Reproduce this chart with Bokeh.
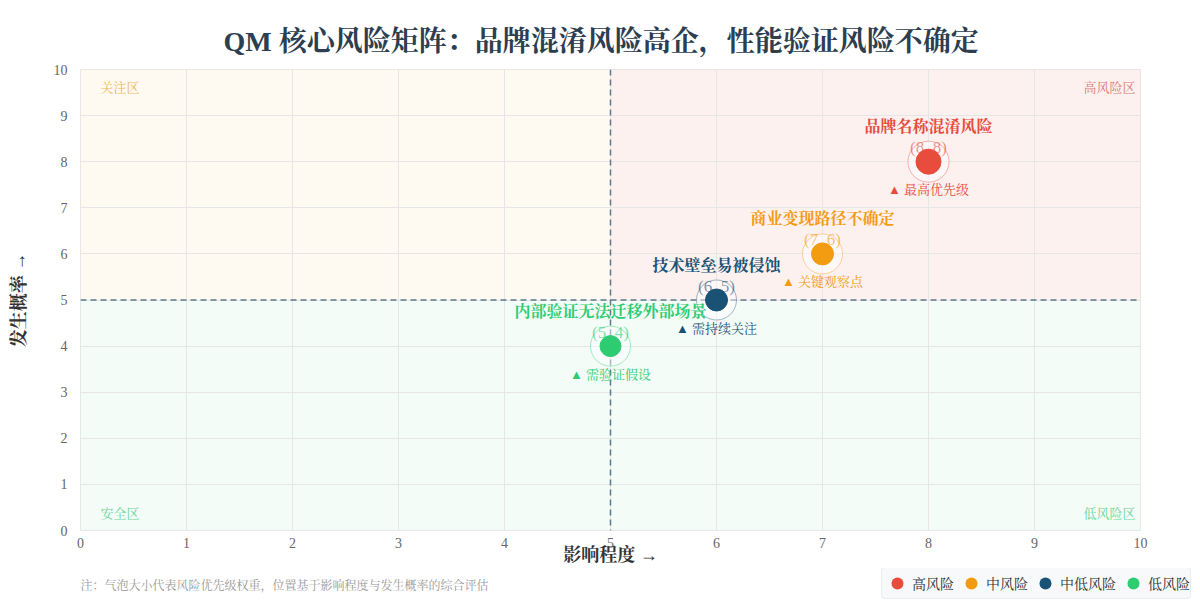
from bokeh.plotting import figure
from bokeh.models import ColumnDataSource, Span, Label, Legend, LegendItem, FixedTicker
from bokeh.core.properties import value
from bokeh.embed import file_html
from bokeh.resources import INLINE

# ---------------- data ----------------
risk_names = ["品牌名称混淆风险", "商业变现路径不确定", "技术壁垒易被侵蚀", "内部验证无法迁移外部场景"]
impact = [8, 7, 6, 5]
probability = [8, 6, 5, 4]
levels = ["高风险", "中风险", "中低风险", "低风险"]
notes = ["最高优先级", "关键观察点", "需持续关注", "需验证假设"]
zone_names = ["关注区", "高风险区", "安全区", "低风险区"]
threshold_impact = 5
threshold_prob = 5
axis_ticks = [0, 1, 2, 3, 4, 5, 6, 7, 8, 9, 10]
footnote = "注：气泡大小代表风险优先级权重，位置基于影响程度与发生概率的综合评估"

# ---------------- styles ----------------
colors = ["#e74c3c", "#f39c12", "#1a5276", "#2ecc71"]
bubble_sizes = [25, 22, 22, 21]
ring_sizes = [41, 40, 40, 40]
FONT = "Liberation Serif, Noto Serif CJK SC, Noto Sans CJK SC, serif"

coord_text = [f"({x}, {y})" for x, y in zip(impact, probability)]
note_text = ["▲ " + n for n in notes]

src = ColumnDataSource(dict(x=impact, y=probability, name=risk_names, level=levels,
                            note=note_text, coord=coord_text, color=colors,
                            size=bubble_sizes, ring=ring_sizes))

p = figure(width=1200, height=568, x_range=(0, 10), y_range=(0, 10),
           output_backend="svg", toolbar_location=None,
           min_border_left=80, min_border_right=60, min_border_top=69, min_border_bottom=38,
           background_fill_color="white", border_fill_color="white")

p.title.text = "QM 核心风险矩阵：品牌混淆风险高企，性能验证风险不确定"
p.title.text_font = FONT
p.title.text_font_size = "28px"
p.title.text_font_style = "bold"
p.title.text_color = "#2c3e50"
p.title.align = "left"
p.title.offset = 143
p.title.standoff = 26

p.outline_line_color = "#e8e8e8"

# quadrant backgrounds
xmin, xmax = axis_ticks[0], axis_ticks[-1]
p.quad(left=[xmin], right=[threshold_impact], bottom=[threshold_prob], top=[xmax],
       fill_color="#f39c12", fill_alpha=0.06, line_color=None, level="underlay")
p.quad(left=[threshold_impact], right=[xmax], bottom=[threshold_prob], top=[xmax],
       fill_color="#e74c3c", fill_alpha=0.08, line_color=None, level="underlay")
p.quad(left=[xmin, threshold_impact], right=[threshold_impact, xmax], bottom=[xmin, xmin],
       top=[threshold_prob, threshold_prob],
       fill_color="#2ecc71", fill_alpha=0.06, line_color=None, level="underlay")

# axes & grid
for ax in (p.xaxis, p.yaxis):
    ax.ticker = FixedTicker(ticks=axis_ticks)
    ax.axis_line_color = None
    ax.major_tick_line_color = None
    ax.minor_tick_line_color = None
    ax.major_tick_out = 0
    ax.major_tick_in = 0
    ax.minor_tick_out = 0
    ax.minor_tick_in = 0
    ax.major_label_text_font = FONT
    ax.major_label_text_font_size = "14px"
    ax.major_label_text_color = "#666666"
    ax.axis_label_text_font = FONT
    ax.axis_label_text_font_size = "18px"
    ax.axis_label_text_font_style = "bold"
    ax.axis_label_text_color = "#333333"
p.xaxis.axis_label = "影响程度 →"
p.yaxis.axis_label = "发生概率 →"
p.xaxis.major_label_standoff = 7
p.yaxis.major_label_standoff = 13
p.xaxis.axis_label_standoff = -6
p.yaxis.axis_label_standoff = 22
p.grid.grid_line_color = "#e6e6e6"
p.grid.grid_line_width = 1

# threshold lines (behind the bubbles)
for loc, dim in ((threshold_impact, "height"), (threshold_prob, "width")):
    p.add_layout(Span(location=loc, dimension=dim, line_color="#5d7a8c",
                      line_dash="6 4", line_width=1.5, level="underlay"))

# zone labels
zone_src = ColumnDataSource(dict(
    x=[xmin, xmax, xmin, xmax], y=[xmax, xmax, xmin, xmin], text=zone_names,
    color=["#f0b95a", "#e07a7a", "#6fd69c", "#6fd69c"],
    align=["left", "right", "left", "right"],
    xo=[20, -5, 20, -5], yo=[18, 18, -17, -17]))
p.text(x="x", y="y", text="text", source=zone_src, text_color="color", text_align="align",
       x_offset="xo", y_offset="yo", text_baseline="middle",
       text_font=value(FONT), text_font_size="13px")

# outer halo rings
p.scatter(x="x", y="y", size="ring", source=src, fill_color="white", fill_alpha=0.45,
          line_color="color", line_alpha=0.4, line_width=1)

# coordinate labels (partly under the bubbles)
p.text(x="x", y="y", text="coord", source=src, text_color="color", text_alpha=0.6,
       y_offset=-14, text_align="center", text_baseline="middle",
       text_font=value(FONT), text_font_size="17px")

# bubbles
p.scatter(x="x", y="y", size="size", source=src, fill_color="color",
          line_color="color", line_width=1)

# name and note labels
p.text(x="x", y="y", text="name", source=src, text_color="color",
       y_offset=-35, text_align="center", text_baseline="middle",
       text_font=value(FONT), text_font_size="16px", text_font_style="bold")
p.text(x="x", y="y", text="note", source=src, text_color="color",
       y_offset=28, text_align="center", text_baseline="middle",
       text_font=value(FONT), text_font_size="13px")

# ---------------- footer strip: footnote + legend ----------------
W, H = 1200, 32
p2 = figure(width=W, height=H, x_range=(0, W), y_range=(0, H),
            output_backend="svg", toolbar_location=None, min_border=0,
            x_axis_location=None, y_axis_location=None,
            background_fill_color="white", border_fill_color="white")
p2.grid.visible = False
p2.outline_line_color = None

items = []
for i, (lv, c) in enumerate(zip(levels, colors)):
    # hidden proxy renderer: only its legend glyph is drawn
    r = p2.scatter(x=[impact[i]], y=[probability[i]], fill_color=c, line_color=None,
                   visible=False)
    items.append(LegendItem(label=lv, renderers=[r]))
legend = Legend(items=items, orientation="horizontal", location=(881, 1),
                label_text_font=FONT, label_text_font_size="14px",
                label_text_color="#333333", glyph_width=30, glyph_height=30,
                label_height=20, spacing=2, padding=0, label_standoff=-2, margin=0,
                background_fill_color="#f8f9fa", background_fill_alpha=1,
                border_line_color="#e0e0e0", border_radius=4)
p2.add_layout(legend, "center")

p2.add_layout(Label(x=80, y=15, text=footnote, text_font=FONT, text_font_size="12px",
                    text_color="#999999", text_baseline="middle"))

open("out.html", "w").write(file_html([p, p2], INLINE))
